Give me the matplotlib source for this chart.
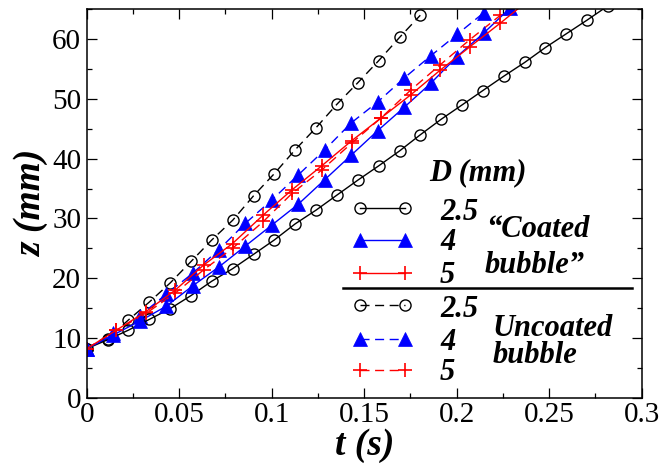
import matplotlib
matplotlib.use("Agg")
import matplotlib.pyplot as plt
from matplotlib.ticker import MultipleLocator

plt.rcParams['font.family'] = ['Liberation Serif', 'DejaVu Serif']

# coated bubble, D = 2.5 mm (solid, circles)
t_c25 = [0, 0.0113, 0.0225, 0.0338, 0.0451, 0.0564, 0.0676, 0.0789, 0.0902, 0.1014,
         0.1127, 0.124, 0.1352, 0.1465, 0.1578, 0.1691, 0.1803, 0.1916, 0.2029, 0.2141,
         0.2254, 0.2367, 0.2479, 0.2592, 0.2705, 0.2818]
z_c25 = [8.2, 9.7, 11.3, 13.1, 14.9, 17.1, 19.5, 21.6, 24.0, 26.4,
         29.1, 31.4, 33.9, 36.4, 38.8, 41.3, 44.0, 46.6, 49.0, 51.4,
         53.8, 56.1, 58.6, 60.9, 63.2, 65.6]
# uncoated bubble, D = 2.5 mm (dashed, circles)
t_u25 = [0, 0.0113, 0.0225, 0.0338, 0.0451, 0.0564, 0.0676, 0.0789, 0.0902, 0.1014,
         0.1127, 0.124, 0.1352, 0.1465, 0.1578, 0.1691, 0.1803]
z_u25 = [8.2, 9.9, 13.0, 16.0, 19.2, 22.8, 26.4, 29.7, 33.8, 37.5,
         41.5, 45.2, 49.1, 52.7, 56.4, 60.3, 64.0]
# D = 4 mm (triangles)
t_c4 = [0, 0.0143, 0.0286, 0.0429, 0.0572, 0.0715, 0.0858, 0.1001, 0.1144, 0.1287,
        0.143, 0.1573, 0.1716, 0.1859, 0.2002, 0.2145, 0.2288]
z_c4 = [8.2, 10.5, 12.8, 15.3, 18.7, 21.9, 25.4, 28.9, 32.4, 36.5,
        40.6, 44.7, 48.6, 52.6, 57.1, 61.0, 65.2]
t_u4 = [0, 0.0143, 0.0286, 0.0429, 0.0572, 0.0715, 0.0858, 0.1001, 0.1144, 0.1287,
        0.143, 0.1573, 0.1716, 0.1859, 0.2002, 0.2145]
z_u4 = [8.2, 10.8, 13.7, 17.3, 20.8, 24.8, 29.2, 33.1, 37.3, 41.5,
        46.0, 49.5, 53.5, 57.2, 60.8, 64.4]
# D = 5 mm (plus)
t_c5 = [0, 0.016, 0.032, 0.0478, 0.0632, 0.0788, 0.0955, 0.111, 0.127, 0.1432,
        0.159, 0.1752, 0.191, 0.207, 0.2236, 0.2396]
z_c5 = [8.2, 11.3, 14.4, 18.0, 22.2, 25.8, 30.6, 34.8, 38.8, 43.0,
        46.8, 50.7, 54.8, 58.7, 62.7, 66.7]
t_u5 = [0, 0.016, 0.032, 0.0478, 0.0632, 0.0788, 0.0955, 0.111, 0.127, 0.1432,
        0.159, 0.1752, 0.191, 0.207, 0.2236, 0.2396]
z_u5 = [8.2, 11.3, 14.1, 17.5, 21.4, 25.0, 29.5, 34.2, 38.1, 42.6,
        46.8, 51.5, 55.7, 59.9, 64.0, 68.0]

diameters = ["2.5", "4", "5"]
xtick_vals = [0, 0.05, 0.1, 0.15, 0.2, 0.25, 0.3]
xtick_labels = ["0", "0.05", "0.1", "0.15", "0.2", "0.25", "0.3"]
ytick_vals = [0, 10, 20, 30, 40, 50, 60]

styles = [dict(color="black", marker="o", mfc="none", mec="black", ms=8, mew=1.0),
          dict(color="blue", marker="^", mfc="blue", mec="blue", ms=9.5, mew=0.5),
          dict(color="red", marker="+", mec="red", ms=10, mew=1.2)]
dash = (6.5, 4)

fig = plt.figure(figsize=(6.62, 4.65), dpi=100)
ax = fig.add_axes([0.131, 0.1447, 0.8384, 0.8353])

coated = [(t_c25, z_c25), (t_c4, z_c4), (t_c5, z_c5)]
uncoated = [(t_u25, z_u25), (t_u4, z_u4), (t_u5, z_u5)]
for (t, z), st in zip(uncoated, styles):
    ax.plot(t, z, lw=1.0, dashes=dash, **st)
for (t, z), st in zip(coated, styles):
    ax.plot(t, z, lw=1.0, ls="-", **st)

ax.set_xlim(0, 0.3)
ax.set_ylim(0, 65)
ax.set_xticks(xtick_vals)
ax.set_xticklabels(xtick_labels)
ax.set_yticks(ytick_vals)
ax.xaxis.set_minor_locator(MultipleLocator(0.025))
ax.yaxis.set_minor_locator(MultipleLocator(5))
ax.tick_params(which="both", direction="in", top=True, right=True, width=0.9, labelsize=21)
ax.tick_params(which="major", length=7)
ax.tick_params(which="minor", length=3.5)
ax.tick_params(axis="x", pad=3)
ax.tick_params(axis="y", pad=4)
for s in ax.spines.values():
    s.set_linewidth(1.1)

ax.set_xlabel("t (s)", fontsize=27, fontweight="bold", style="italic", labelpad=0)
ax.set_ylabel("z (mm)", fontsize=27, fontweight="bold", style="italic", labelpad=2)

# hand-made legend
tf = ax.transAxes
hx = [0.4924, 0.5735]
rows_c = [0.4876, 0.406, 0.3203]
rows_u = [0.2387, 0.1511, 0.0713]
base_c = [0.4575, 0.38, 0.2953]
base_u = [0.2086, 0.1228, 0.0456]
txt = dict(fontsize=22, fontweight="bold", style="italic", transform=tf, va="baseline")
for st, y, b, lab in zip(styles, rows_c, base_c, diameters):
    ax.plot(hx, [y, y], transform=tf, lw=1.0, ls="-", clip_on=False, **st)
    ax.text(0.6366, b, lab, ha="left", **txt)
for st, y, b, lab in zip(styles, rows_u, base_u, diameters):
    ax.plot(hx, [y, y], transform=tf, lw=1.0, dashes=dash, clip_on=False, **st)
    ax.text(0.6366, b, lab, ha="left", **txt)
ax.plot([0.4613, 0.982], [0.2817, 0.2817], transform=tf, color="black", lw=1.8, clip_on=False)
ax.text(0.705, 0.5605, "D (mm)", ha="center", **txt)
ax.text(0.7196, 0.4145, "\u201cCoated", ha="left", **txt)
ax.text(0.7177, 0.3218, "bubble\u201d", ha="left", **txt)
ax.text(0.732, 0.1589, "Uncoated", ha="left", **txt)
ax.text(0.732, 0.0901, "bubble", ha="left", **txt)

fig.savefig("out.png", dpi=100)
